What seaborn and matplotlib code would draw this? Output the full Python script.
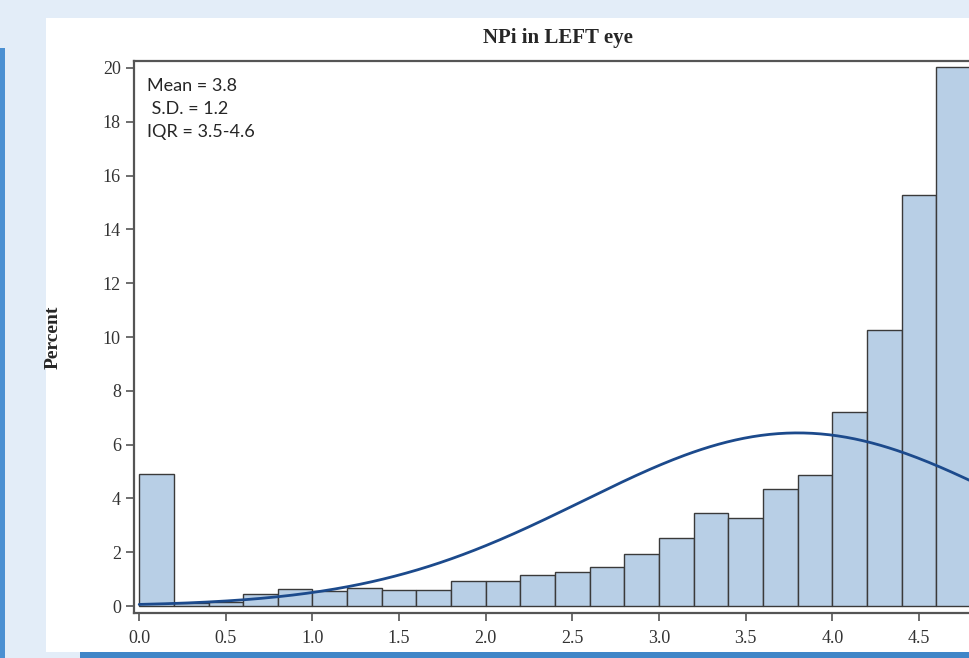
import numpy as np
import pandas as pd
import matplotlib
matplotlib.use("Agg")
import matplotlib.pyplot as plt
import seaborn as sns
from matplotlib.patches import Rectangle

# histogram bins (NPi value, lower edge) and percent of eyes per bin
bin_lower = [0.0, 0.2, 0.4, 0.6, 0.8, 1.0, 1.2, 1.4, 1.6, 1.8, 2.0, 2.2,
             2.4, 2.6, 2.8, 3.0, 3.2, 3.4, 3.6, 3.8, 4.0, 4.2, 4.4, 4.6]
percent = [4.9, 0.1, 0.15, 0.45, 0.63, 0.57, 0.68, 0.6, 0.6, 0.93, 0.93, 1.15,
           1.27, 1.45, 1.93, 2.53, 3.46, 3.27, 4.35, 4.87, 7.2, 10.26, 15.28, 20.04]
bin_width = 0.2

# fitted normal curve
npi_mean = 3.8
npi_sd = 1.24

x_ticks = [0.0, 0.5, 1.0, 1.5, 2.0, 2.5, 3.0, 3.5, 4.0, 4.5]
y_ticks = [0, 2, 4, 6, 8, 10, 12, 14, 16, 18, 20]

df = pd.DataFrame({"npi": np.array(bin_lower) + bin_width / 2, "pct": percent})
edges = list(bin_lower) + [bin_lower[-1] + bin_width]

sns.set_style("white")
W, H = 969, 658
fig = plt.figure(figsize=(W / 100, H / 100), dpi=100, facecolor="#e3edf8")

# white panel and blue frame pieces
fig.patches.append(Rectangle((46 / W, 1 - 652 / H), 1, (652 - 18) / H,
                             transform=fig.transFigure, facecolor="white", edgecolor="none", zorder=0))
fig.patches.append(Rectangle((0, 0), 5 / W, 1 - 48 / H,
                             transform=fig.transFigure, facecolor="#4b90d2", edgecolor="none", zorder=0))
fig.patches.append(Rectangle((80 / W, 0), 1, 6 / H,
                             transform=fig.transFigure, facecolor="#3f86c8", edgecolor="none", zorder=0))

ax = fig.add_axes([134 / W, 1 - 613 / H, (982 - 134) / W, (613 - 61) / H])
ax.set_zorder(2)
ax.set_facecolor("white")

sns.histplot(data=df, x="npi", weights="pct", bins=edges, stat="count",
             color="#b8cfe6", alpha=1, edgecolor="#3a3a3a", linewidth=1, ax=ax)

curve_x = np.linspace(0, 4.9, 300)
curve_y = 100 * bin_width * np.exp(-0.5 * ((curve_x - npi_mean) / npi_sd) ** 2) / (npi_sd * np.sqrt(2 * np.pi))
sns.lineplot(x=curve_x, y=curve_y, color="#1c4a8c", linewidth=2, ax=ax)

ax.set_xlim(-0.03, 4.864)
ax.set_ylim(-0.26, 20.26)
ax.set_xticks(x_ticks)
ax.set_xticklabels([f"{v:.1f}" for v in x_ticks])
ax.set_yticks(y_ticks)
ax.tick_params(axis="both", direction="out", length=6, width=1.2, color="#555555",
               labelsize=13, labelcolor="#333333", bottom=True, left=True)
ax.tick_params(axis="x", pad=6)
for lab in ax.get_xticklabels() + ax.get_yticklabels():
    lab.set_family("Liberation Serif")
for side in ["left", "top", "bottom", "right"]:
    ax.spines[side].set_color("#555555")
    ax.spines[side].set_linewidth(1.6)

ax.set_xlabel("")
ax.set_ylabel("Percent", family="Liberation Serif", fontweight="bold", fontsize=14)
ax.yaxis.set_label_coords((62 - 134) / (982 - 134), 0.5)
ax.set_title("NPi in LEFT eye", family="Liberation Serif", fontweight="bold", fontsize=15, pad=13)

ax.text(0.015, 0.97, "Mean = 3.8\n S.D. = 1.2\nIQR = 3.5-4.6", transform=ax.transAxes,
        va="top", ha="left", family="Lato", fontsize=13, linespacing=1.55)

plt.savefig("out.png", dpi=100, facecolor=fig.get_facecolor())
